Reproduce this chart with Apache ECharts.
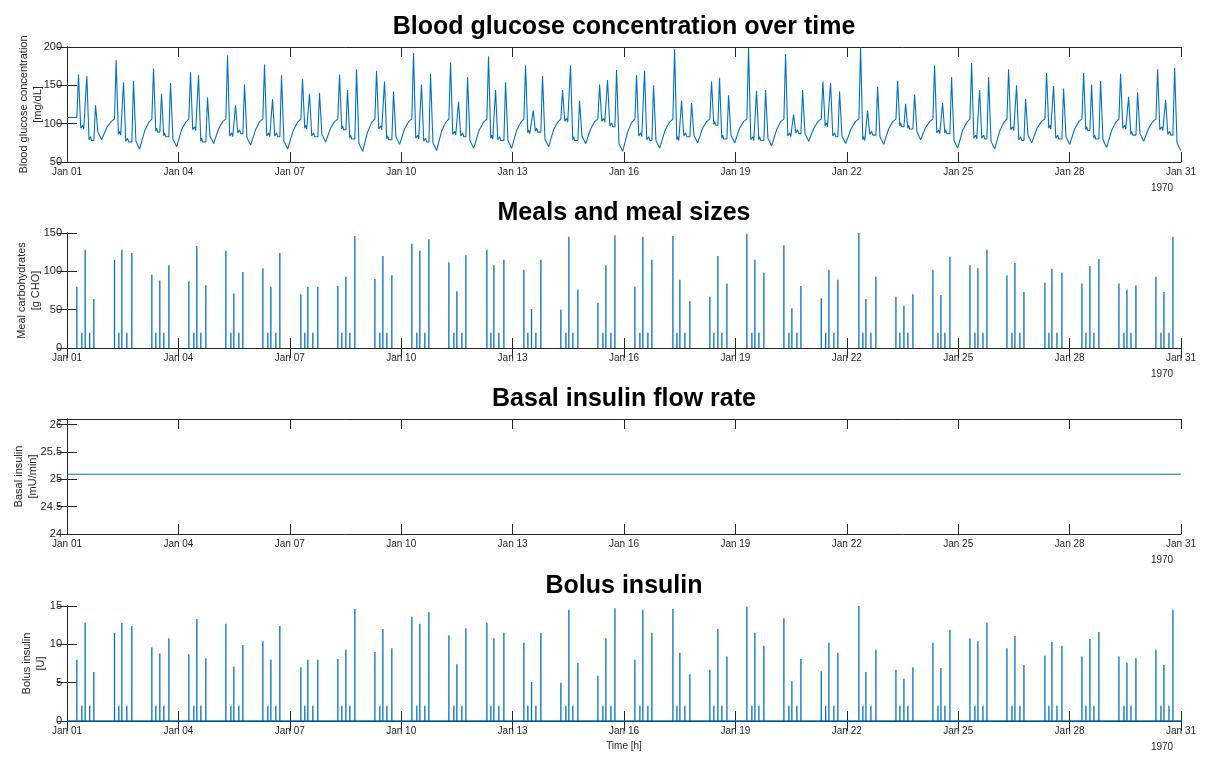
<!DOCTYPE html>
<html>
<head>
<meta charset="utf-8">
<script src="https://cdn.jsdelivr.net/npm/echarts@6/dist/echarts.min.js"></script>
<style>
  html, body { margin: 0; padding: 0; background: #fff; }
  #main { width: 1208px; height: 763px; }
</style>
</head>
<body>
<div id="main"></div>
<script>
// time is in days since Jan 01 1970 00:00
var tickLabels = ['Jan 01', 'Jan 04', 'Jan 07', 'Jan 10', 'Jan 13', 'Jan 16', 'Jan 19', 'Jan 22', 'Jan 25', 'Jan 28', 'Jan 31'];

// meal times (days)
var breakfastTime = [0.265, 1.279, 2.285, 3.281, 4.278, 5.274, 6.298, 7.294, 8.291, 9.287, 10.284, 11.307, 12.304, 13.300, 14.297, 15.293, 16.317, 17.313, 18.309, 19.306, 20.312, 21.326, 22.323, 23.319, 24.316, 25.312, 26.335, 27.332, 28.328, 29.325];
var snack1Time = [0.400, 1.396, 2.393, 3.416, 4.413, 5.409, 6.405, 7.401, 8.425, 9.422, 10.418, 11.415, 12.411, 13.435, 14.432, 15.428, 16.425, 17.420, 18.444, 19.441, 20.430, 21.433, 22.430, 23.454, 24.450, 25.447, 26.443, 27.440, 28.463, 29.460];
var lunchTime = [0.489, 1.477, 2.500, 3.497, 4.493, 5.490, 6.486, 7.510, 8.506, 9.502, 10.499, 11.496, 12.510, 13.515, 14.512, 15.508, 16.505, 17.528, 18.525, 19.521, 20.518, 21.514, 22.538, 23.534, 24.531, 25.527, 26.524, 27.547, 28.544, 29.541];
var snack2Time = [0.611, 1.611, 2.608, 3.605, 4.628, 5.624, 6.621, 7.617, 8.614, 9.637, 10.634, 11.630, 12.627, 13.623, 14.647, 15.643, 16.640, 17.636, 18.632, 19.656, 20.652, 21.649, 22.645, 23.642, 24.666, 25.662, 26.659, 27.655, 28.652, 29.676];
var dinnerTime = [0.723, 1.746, 2.743, 3.739, 4.736, 5.732, 6.755, 7.752, 8.748, 9.745, 10.742, 11.765, 12.761, 13.758, 14.755, 15.751, 16.774, 17.771, 18.767, 19.764, 20.760, 21.784, 22.780, 23.777, 24.774, 25.770, 26.793, 27.789, 28.786, 29.783];

// meal sizes [g CHO]
var breakfastCHO = [80, 115, 96, 87, 127, 104, 70, 81, 90, 136, 112, 128, 102, 50, 59, 80, 146, 67, 149, 134, 65, 150, 67, 102, 108, 95, 85, 84, 84, 93];
var lunchCHO = [128, 128, 88, 133, 71, 80, 80, 93, 120, 127, 74, 108, 51, 145, 108, 145, 89, 120, 115, 52, 102, 64, 55, 69, 104, 111, 103, 107, 76, 73];
var dinnerCHO = [64, 124, 108, 82, 99, 124, 80, 146, 95, 142, 121, 115, 115, 76, 147, 115, 61, 84, 98, 81, 89, 93, 70, 119, 128, 73, 98, 116, 82, 145];
var snackCHO = 20;

// bolus [U]
var breakfastBolus = [8.0, 11.5, 9.6, 8.7, 12.7, 10.4, 7.0, 8.1, 9.0, 13.6, 11.2, 12.8, 10.2, 5.0, 5.9, 8.0, 14.6, 6.7, 14.9, 13.4, 6.5, 15.0, 6.7, 10.2, 10.8, 9.5, 8.5, 8.4, 8.4, 9.3];
var lunchBolus = [12.8, 12.8, 8.8, 13.3, 7.1, 8.0, 8.0, 9.3, 12.0, 12.7, 7.4, 10.8, 5.1, 14.5, 10.8, 14.5, 8.9, 12.0, 11.5, 5.2, 10.2, 6.4, 5.5, 6.9, 10.4, 11.1, 10.3, 10.7, 7.6, 7.3];
var dinnerBolus = [6.4, 12.4, 10.8, 8.2, 9.9, 12.4, 8.0, 14.6, 9.5, 14.2, 12.1, 11.5, 11.5, 7.6, 14.7, 11.5, 6.1, 8.4, 9.8, 8.1, 8.9, 9.3, 7.0, 11.9, 12.8, 7.3, 9.8, 11.6, 8.2, 14.5];
var snackBolus = 2;

// basal [mU/min]
var basalRate = 25.09;

// glucose landmarks per day [mg/dL]
var gluPreMeal = [108, 106, 106, 106, 106, 106, 106, 106, 106, 106, 106, 106, 106, 106, 106, 106, 106, 106, 106, 106, 106, 106, 106, 106, 106, 106, 106, 106, 106, 106];
var gluPeakB = [164, 183, 172, 167, 189, 177, 158, 164, 169, 192, 180, 188, 176, 144, 151, 163, 197, 155, 199, 191, 155, 200, 156, 176, 179, 171, 166, 166, 165, 171];
var gluPostB = [94, 86, 90, 92, 84, 84, 94, 93, 93, 81, 86, 81, 88, 103, 103, 84, 79, 99, 79, 84, 97, 79, 97, 88, 81, 92, 94, 92, 94, 92];
var gluPeakL = [162, 154, 139, 163, 124, 132, 139, 144, 155, 151, 129, 144, 117, 176, 157, 169, 130, 160, 143, 112, 153, 117, 126, 127, 144, 150, 149, 151, 135, 131];
var gluPostL = [79, 77, 84, 77, 88, 84, 84, 81, 80, 77, 84, 79, 90, 79, 97, 79, 84, 81, 79, 88, 84, 86, 94, 88, 81, 79, 81, 81, 86, 86];
var gluPeakD = [124, 156, 153, 134, 151, 163, 140, 171, 142, 165, 161, 154, 162, 130, 170, 150, 127, 137, 144, 144, 142, 148, 138, 161, 161, 132, 146, 156, 141, 173];
var gluNightLow = [79, 67, 70, 74, 72, 67, 76, 64, 73, 65, 68, 68, 70, 74, 64, 68, 75, 75, 71, 77, 74, 73, 79, 68, 67, 75, 73, 69, 77, 65];
var gluDawnA = [95, 90, 92, 93, 92, 90, 94, 89, 93, 90, 91, 91, 92, 93, 89, 91, 94, 94, 92, 94, 93, 93, 95, 91, 90, 94, 93, 91, 94];
var gluDawnB = [103, 102, 102, 103, 103, 102, 103, 102, 103, 102, 102, 102, 102, 103, 102, 102, 103, 103, 103, 103, 103, 103, 103, 102, 102, 103, 103, 102, 103];

var BLUE = '#0072BD';
var INK = '#262626';
var FONT = '"Liberation Sans", Arial, sans-serif';

// build glucose trace
var glucose = [[0, gluPreMeal[0]]];
for (var d = 0; d < breakfastTime.length; d++) {
  var bf = breakfastTime[d], s1 = snack1Time[d], lu = lunchTime[d], s2 = snack2Time[d], di = dinnerTime[d];
  glucose.push([bf, gluPreMeal[d]], [bf + 0.045, gluPeakB[d]], [bf + 0.105, gluPostB[d]],
    [s1 + 0.02, gluPostB[d] + 4], [s1 + 0.05, gluPostB[d] - 1], [lu, gluPostB[d] - 1],
    [lu + 0.045, gluPeakL[d]], [lu + 0.105, gluPostL[d]],
    [s2 + 0.02, gluPostL[d] + 4], [s2 + 0.05, gluPostL[d] - 1], [di, gluPostL[d] - 1],
    [di + 0.045, gluPeakD[d]], [di + 0.11, gluNightLow[d] + 10], [Math.min(di + 0.21, 30), gluNightLow[d]]);
  if (d < breakfastTime.length - 1) {
    var t0 = di + 0.21, gap = breakfastTime[d + 1] - t0;
    glucose.push([t0 + 0.4 * gap, gluDawnA[d]], [t0 + 0.75 * gap, gluDawnB[d]]);
  }
}

// stems
var meals = [], bolus = [[0, 0]];
function addEvent(t, cho, u) {
  meals.push([t, 0], [t, cho], [t, '-']);
  bolus.push([t, 0], [t, u], [t, 0]);
}
for (var i = 0; i < breakfastTime.length; i++) {
  addEvent(breakfastTime[i], breakfastCHO[i], breakfastBolus[i]);
  addEvent(snack1Time[i], snackCHO, snackBolus);
  addEvent(lunchTime[i], lunchCHO[i], lunchBolus[i]);
  addEvent(snack2Time[i], snackCHO, snackBolus);
  addEvent(dinnerTime[i], dinnerCHO[i], dinnerBolus[i]);
}
bolus.push([30, 0]);
var basal = [[0, basalRate], [30, basalRate]];

var gridTops = [47, 233, 419, 606];
var titles = ['Blood glucose concentration over time', 'Meals and meal sizes', 'Basal insulin flow rate', 'Bolus insulin'];
var yNames = [['Blood glucose concentration', '[mg/dL]'], ['Meal carbohydrates', '[g CHO]'], ['Basal insulin', '[mU/min]'], ['Bolus insulin', '[U]']];
var yNameX = [31, 29, 26, 34];
var yRanges = [[50, 200, 50], [0, 150, 50], [24, 26.1, 0.5], [0, 15, 5]];

var grids = [], xAxes = [], yAxes = [], graphics = [];
gridTops.forEach(function (top, k) {
  grids.push({ left: 67, top: top, width: 1114, height: 115 });
  var axLine = { show: true, lineStyle: { color: INK, width: 1 } };
  var tick = { show: true, inside: true, length: 10, lineStyle: { color: INK, width: 1 } };
  xAxes.push({
    type: 'value', gridIndex: k, min: 0, max: 30, interval: 3, position: 'bottom',
    axisLine: axLine, axisTick: tick, splitLine: { show: false },
    axisLabel: { color: INK, fontSize: 10, fontFamily: FONT, margin: 5,
      formatter: function (v) { return tickLabels[Math.round(v / 3)]; } }
  });
  xAxes.push({
    type: 'value', gridIndex: k, min: 0, max: 30, interval: 3, position: 'top',
    axisLine: axLine, axisTick: tick, splitLine: { show: false }, axisLabel: { show: false }
  });
  var r = yRanges[k];
  yAxes.push({
    type: 'value', gridIndex: k, min: r[0], max: r[1], interval: r[2], position: 'left',
    axisLine: axLine, axisTick: tick, splitLine: { show: false },
    axisLabel: { color: INK, fontSize: 11, fontFamily: FONT, margin: 5, showMaxLabel: k !== 2 }
  });
  yAxes.push({
    type: 'value', gridIndex: k, min: r[0], max: r[1], interval: r[2], position: 'right',
    axisLine: axLine, axisTick: tick, splitLine: { show: false }, axisLabel: { show: false }
  });
  graphics.push({
    type: 'text', x: 624, y: top - 20,
    style: { text: titles[k], font: 'bold 25px ' + FONT, fill: '#000', textAlign: 'center', textVerticalAlign: 'middle' }
  });
  graphics.push({
    type: 'text', x: yNameX[k], y: top + 57.5, rotation: Math.PI / 2,
    style: { text: yNames[k].join('\n'), font: '11px ' + FONT, fill: INK, textAlign: 'center', textVerticalAlign: 'middle', lineHeight: 14 }
  });
  graphics.push({
    type: 'text', x: 1162, y: top + 141,
    style: { text: '1970', font: '10px ' + FONT, fill: INK, textAlign: 'center', textVerticalAlign: 'middle' }
  });
});
graphics.push({
  type: 'text', x: 624, y: 746,
  style: { text: 'Time [h]', font: '10px ' + FONT, fill: INK, textAlign: 'center', textVerticalAlign: 'middle' }
});

var chart = echarts.init(document.getElementById('main'));
chart.setOption({
  animation: false,
  backgroundColor: '#fff',
  grid: grids,
  xAxis: xAxes,
  yAxis: yAxes,
  graphic: graphics,
  series: [
    { type: 'line', xAxisIndex: 0, yAxisIndex: 0, data: glucose, showSymbol: false, clip: true,
      lineStyle: { color: BLUE, width: 1.1 } },
    { type: 'line', xAxisIndex: 2, yAxisIndex: 2, data: meals, showSymbol: false, connectNulls: false,
      lineStyle: { color: BLUE, width: 1.3 } },
    { type: 'line', xAxisIndex: 4, yAxisIndex: 4, data: basal, showSymbol: false,
      lineStyle: { color: BLUE, width: 1.1 } },
    { type: 'line', xAxisIndex: 6, yAxisIndex: 6, data: bolus, showSymbol: false,
      lineStyle: { color: BLUE, width: 1.3 } }
  ]
});
</script>
</body>
</html>
